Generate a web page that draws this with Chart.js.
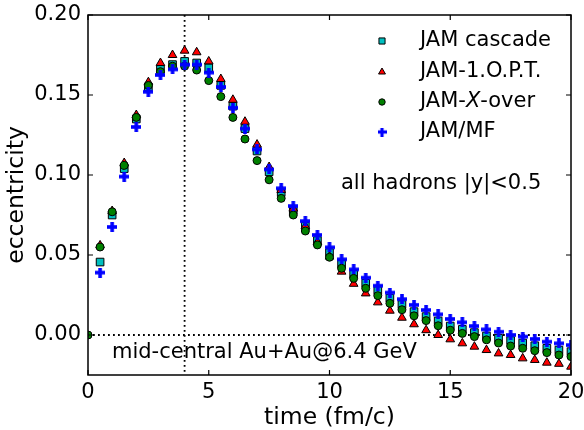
<!DOCTYPE html>
<html>
<head>
<meta charset="utf-8">
<script src="https://cdn.jsdelivr.net/npm/chart.js@4.4.0/dist/chart.umd.min.js"></script>
<style>
  html, body { margin: 0; padding: 0; background: #fff; }
  #wrap { width: 584px; height: 430px; }
</style>
</head>
<body>
<div id="wrap"><canvas id="eccChart"></canvas></div>
<script>
// time axis (fm/c)
const times = [0.5, 1, 1.5, 2, 2.5, 3, 3.5, 4, 4.5, 5, 5.5, 6, 6.5, 7, 7.5, 8, 8.5, 9, 9.5, 10,
  10.5, 11, 11.5, 12, 12.5, 13, 13.5, 14, 14.5, 15, 15.5, 16, 16.5, 17, 17.5, 18, 18.5, 19, 19.5, 20];

const jamCascade = [0.0456, 0.075, 0.104, 0.135, 0.155, 0.166, 0.169, 0.171, 0.170, 0.167,
  0.156, 0.143, 0.129, 0.115, 0.102, 0.089, 0.078, 0.068, 0.059, 0.0515,
  0.0444, 0.038, 0.0323, 0.0277, 0.023, 0.019, 0.0146, 0.0115, 0.0088, 0.0056,
  0.0035, 0.0015, -0.0006, -0.002, -0.0035, -0.005, -0.0067, -0.0083, -0.0094, -0.0104];

const jamOPT = [0.056, 0.0775, 0.1075, 0.1375, 0.158, 0.170, 0.175, 0.1777, 0.1767, 0.171,
  0.160, 0.147, 0.1333, 0.119, 0.105, 0.0906, 0.079, 0.068, 0.058, 0.049,
  0.0396, 0.032, 0.026, 0.0204, 0.0152, 0.0108, 0.0067, 0.003, 0.0, -0.0027,
  -0.0052, -0.0073, -0.0094, -0.0115, -0.0125, -0.0146, -0.0156, -0.0173, -0.018, -0.0198];

// X-over also has a point at t = 0
const xoverTimes = [0, 0.5, 1, 1.5, 2, 2.5, 3, 3.5, 4, 4.5, 5, 5.5, 6, 6.5, 7, 7.5, 8, 8.5, 9, 9.5, 10,
  10.5, 11, 11.5, 12, 12.5, 13, 13.5, 14, 14.5, 15, 15.5, 16, 16.5, 17, 17.5, 18, 18.5, 19, 19.5, 20];
const jamXover = [0, 0.055, 0.077, 0.106, 0.136, 0.156, 0.1646, 0.168, 0.168, 0.1656, 0.159,
  0.149, 0.136, 0.1225, 0.109, 0.097, 0.0854, 0.075, 0.065, 0.0563, 0.0486,
  0.0417, 0.0354, 0.0292, 0.0246, 0.0198, 0.0158, 0.012, 0.009, 0.0058, 0.003,
  0.001, -0.001, -0.003, -0.005, -0.0069, -0.0083, -0.0098, -0.011, -0.0125, -0.0135];

const jamMF = [0.039, 0.0675, 0.099, 0.130, 0.152, 0.1625, 0.166, 0.169, 0.169, 0.164,
  0.155, 0.142, 0.129, 0.116, 0.1035, 0.0917, 0.0806, 0.0712, 0.0625, 0.0548,
  0.0473, 0.041, 0.0358, 0.0308, 0.0265, 0.0224, 0.0188, 0.0156, 0.0129, 0.010,
  0.0079, 0.0056, 0.0035, 0.002, 0.0, -0.001, -0.0025, -0.0042, -0.0052, -0.0063];

const xTicks = [0, 5, 10, 15, 20];
const yTicks = [0.00, 0.05, 0.10, 0.15, 0.20];
const seriesNames = ['JAM cascade', 'JAM-1.O.P.T.', 'JAM-X-over', 'JAM/MF'];

const FONT = "'DejaVu Sans', sans-serif";
const TXT = 21;

// filled plus marker (matplotlib 'P')
function makePlus(size, thick, color) {
  const c = document.createElement('canvas');
  c.width = size; c.height = size;
  const g = c.getContext('2d');
  g.fillStyle = color;
  const a = (size - thick) / 2;
  g.fillRect(a, 0, thick, size);
  g.fillRect(0, a, size, thick);
  return c;
}
const plusImg = makePlus(10, 3.6, '#0000ff');
const plusSmall = makePlus(9, 3.2, '#0000ff');

function pts(xs, ys) {
  return ys.map((v, i) => ({ x: xs[i], y: v }));
}

const markerStyles = [
  { pointStyle: 'rect', radius: 5.4, bg: '#00bfbf', border: '#000', bw: 1 },
  { pointStyle: 'triangle', radius: 5, bg: '#ff0000', border: '#000', bw: 1 },
  { pointStyle: 'circle', radius: 4, bg: '#008000', border: '#000', bw: 1 },
  { pointStyle: plusImg, radius: 5, bg: '#0000ff', border: '#0000ff', bw: 0 }
];

const seriesData = [pts(times, jamCascade), pts(times, jamOPT), pts(xoverTimes, jamXover), pts(times, jamMF)];

const datasets = seriesData.map((d, i) => ({
  label: seriesNames[i],
  data: d,
  showLine: false,
  pointStyle: markerStyles[i].pointStyle,
  pointRadius: markerStyles[i].radius,
  pointHoverRadius: markerStyles[i].radius,
  backgroundColor: markerStyles[i].bg,
  borderColor: markerStyles[i].border,
  borderWidth: markerStyles[i].bw,
  order: 4 - i,
  clip: 0
}));

const decorPlugin = {
  id: 'decor',
  beforeDatasetsDraw(chart) {
    const { ctx, chartArea: a, scales: { x, y } } = chart;
    ctx.save();
    ctx.strokeStyle = '#000';
    ctx.lineWidth = 1.8;
    ctx.setLineDash([1.8, 3.2]);
    const vx = x.getPixelForValue(4);
    ctx.beginPath(); ctx.moveTo(vx, a.top); ctx.lineTo(vx, a.bottom); ctx.stroke();
    const hy = y.getPixelForValue(0);
    ctx.beginPath(); ctx.moveTo(a.left, hy); ctx.lineTo(a.right, hy); ctx.stroke();
    ctx.restore();
  },
  afterDraw(chart) {
    const { ctx, chartArea: a, scales: { x, y } } = chart;
    ctx.save();
    // frame
    ctx.strokeStyle = '#000';
    ctx.lineWidth = 1.5;
    ctx.strokeRect(a.left, a.top, a.right - a.left, a.bottom - a.top);
    // inward ticks on all sides
    ctx.lineWidth = 1.2;
    const tl = 5;
    ctx.beginPath();
    xTicks.forEach(v => {
      const px = x.getPixelForValue(v);
      ctx.moveTo(px, a.bottom); ctx.lineTo(px, a.bottom - tl);
      ctx.moveTo(px, a.top); ctx.lineTo(px, a.top + tl);
    });
    yTicks.forEach(v => {
      const py = y.getPixelForValue(v);
      ctx.moveTo(a.left, py); ctx.lineTo(a.left + tl, py);
      ctx.moveTo(a.right, py); ctx.lineTo(a.right - tl, py);
    });
    ctx.stroke();

    // legend
    const lx = 382, tx = 420, rows = [41, 72, 102, 132];
    ctx.font = TXT + 'px ' + FONT;
    ctx.textBaseline = 'middle';
    markerStyles.forEach((m, i) => {
      ctx.save();
      ctx.fillStyle = m.bg;
      ctx.strokeStyle = m.border;
      ctx.lineWidth = m.bw;
      Chart.helpers.drawPoint(ctx, {
        pointStyle: i === 3 ? plusSmall : m.pointStyle,
        radius: m.radius * 0.8,
        rotation: 0,
        borderWidth: m.bw
      }, lx, rows[i]);
      ctx.restore();
    });
    ctx.fillStyle = '#000';
    ctx.textAlign = 'left';
    ctx.fillText('JAM cascade', tx, rows[0]);
    ctx.fillText('JAM-1.O.P.T.', tx, rows[1]);
    let cx = tx;
    ctx.fillText('JAM-', cx, rows[2]);
    cx += ctx.measureText('JAM-').width;
    ctx.font = 'italic ' + TXT + 'px ' + FONT;
    ctx.fillText('X', cx, rows[2]);
    cx += ctx.measureText('X').width;
    ctx.font = TXT + 'px ' + FONT;
    ctx.fillText('-over', cx, rows[2]);
    ctx.fillText('JAM/MF', tx, rows[3]);

    // annotations
    ctx.fillText('all hadrons |y|<0.5', 341, 184);
    ctx.fillText('mid-central Au+Au@6.4 GeV', 112, 353);
    ctx.restore();
  }
};

new Chart(document.getElementById('eccChart'), {
  type: 'scatter',
  data: { datasets: datasets },
  options: {
    responsive: true,
    maintainAspectRatio: false,
    animation: false,
    events: [],
    layout: { padding: { top: 15, right: 13, left: 0, bottom: 0 } },
    plugins: { legend: { display: false }, tooltip: { enabled: false } },
    scales: {
      x: {
        type: 'linear',
        min: 0,
        max: 20,
        afterFit: s => { s.height = 55; s.paddingLeft = 0; s.paddingRight = 0; },
        afterBuildTicks: s => { s.ticks = xTicks.map(v => ({ value: v })); },
        grid: { display: true, drawOnChartArea: false, drawTicks: false },
        border: { display: false },
        ticks: { color: '#000', font: { family: FONT, size: TXT }, padding: 5, maxRotation: 0 },
        title: { display: true, text: 'time (fm/c)', color: '#000',
          font: { family: FONT, size: 23.5, lineHeight: 1 }, padding: { top: 0, bottom: 0 } }
      },
      y: {
        type: 'linear',
        min: -0.025,
        max: 0.20,
        afterFit: s => { s.width = 88; s.paddingTop = 0; s.paddingBottom = 0; },
        afterBuildTicks: s => { s.ticks = yTicks.map(v => ({ value: v })); },
        grid: { display: true, drawOnChartArea: false, drawTicks: false },
        border: { display: false },
        ticks: { color: '#000', font: { family: FONT, size: TXT }, padding: 7,
          callback: v => v.toFixed(2) },
        title: { display: true, text: 'eccentricity', color: '#000',
          font: { family: FONT, size: 23.5, lineHeight: 1 }, padding: { top: 5, bottom: 0 } }
      }
    }
  },
  plugins: [decorPlugin]
});
</script>
</body>
</html>
